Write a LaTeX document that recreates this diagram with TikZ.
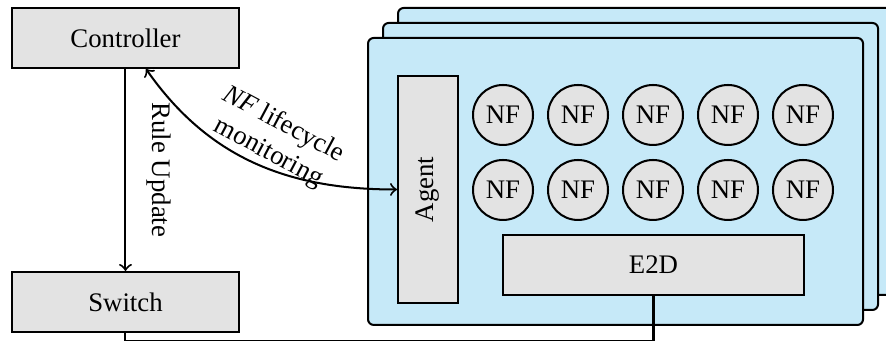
\documentclass[tikz,border=0pt]{standalone}
\usepackage{fontspec}
\setmainfont{Liberation Serif}
\usetikzlibrary{arrows}
\usetikzlibrary{calc}
\usetikzlibrary{positioning}

\definecolor{boxgray}{RGB}{227,227,227}
\definecolor{hostblue}{RGB}{198,233,248}

\begin{document}
\begin{tikzpicture}[
	font=\fontsize{9.3}{11}\selectfont,
	line width=0.7pt,
	block/.style={draw, fill=boxgray, minimum width=2.77cm, minimum height=0.732cm, inner sep=0pt},
	nf/.style={draw, circle, fill=boxgray, minimum size=0.732cm, inner sep=0pt},
	host/.style={draw, fill=hostblue, rounded corners=2pt}
]
	\useasboundingbox (0,0) rectangle (10.81,4.16);

	% servers, back to front
	\foreach \s in {2,1,0} {
	 \draw[host] (4.49+0.183*\s,0.195+0.183*\s) rectangle (10.53+0.183*\s,3.697+0.183*\s);
	}

	% controller and switch
	\node[block] (ctrl) at (1.531,3.697) {Controller};
	\node[block] (switch) at (1.531,0.476) {Switch};

	% agent and E2D
	\node[block, rotate=90] (agent) at (5.222,1.848) {Agent};
	\node[block, minimum width=3.672cm] (e2d) at (7.973,0.927) {E2D};

	% network functions
	\foreach \i in {1,...,5} {
	 \node[nf] (nfa\i) at (5.222+0.915*\i,2.757) {NF};
	 \node[nf] (nfb\i) at (5.222+0.915*\i,1.842) {NF};
	}

	% arrows
	\draw[->] (ctrl) -- (switch) node[midway, rotate=-90, anchor=south, inner sep=7pt] {Rule Update};
	% agent is turned, so its north side faces the controller
	\draw[<->] ([xshift=0.25cm]ctrl.south) to[out=-55, in=180]
		node[pos=0.53, rotate=-28, anchor=south, align=center, inner sep=0.5pt] {\textit{NF} lifecycle\\monitoring} (agent.north);
	\draw (e2d.south) |- ([yshift=-1mm]switch.south) -- (switch.south);
\end{tikzpicture}
\end{document}
